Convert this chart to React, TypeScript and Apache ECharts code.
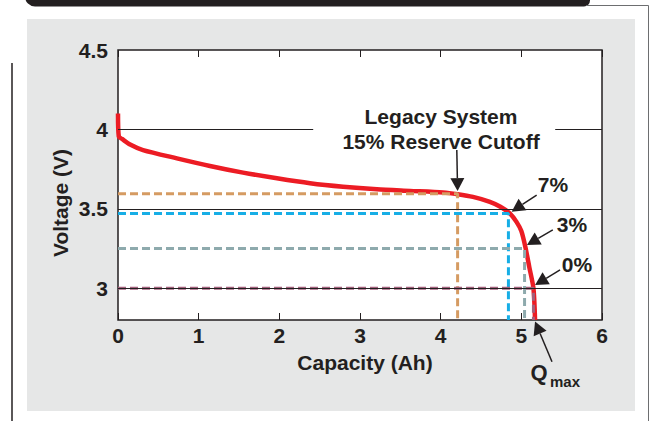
import React, { useEffect, useRef } from "react";
import * as echarts from "echarts";

// Discharge curve (capacity in Ah, voltage in V)
const capacity = [0, 0.01, 0.05, 0.15, 0.31, 0.73, 1.14, 1.55, 1.97, 2.38, 2.79, 3.21, 3.62, 4.03, 4.21, 4.4, 4.61, 4.74, 4.86, 4.94, 5.0, 5.05, 5.1, 5.15, 5.17];
const voltage = [4.1, 3.955, 3.94, 3.905, 3.87, 3.818, 3.77, 3.728, 3.692, 3.661, 3.639, 3.623, 3.613, 3.603, 3.592, 3.575, 3.544, 3.513, 3.47, 3.418, 3.36, 3.26, 3.13, 3.0, 2.8];

// Reserve cut-off points
const cutoffNames = ["15%", "7%", "3%", "0%"];
const cutoffCapacity = [4.21, 4.84, 5.04, 5.15];
const cutoffVoltage = [3.595, 3.47, 3.25, 3.0];
const cutoffColors = ["#d59b62", "#17aee6", "#8eaaad", "#a3607c"];

// Axes
const xMin = 0;
const xMax = 6;
const yMin = 2.8;
const yMax = 4.5;
const yTickLabels = [3, 3.5, 4, 4.5];
const fullGridVoltages = [3, 3.5];
const partialGridVoltage = 4;
const partialGridRanges = [[0, 2.42], [5.42, 6]];

// Annotation arrows: tails and tips in (capacity, voltage)
const arrowTail = [[4.2, 3.87], [5.19, 3.587], [5.39, 3.367], [5.48, 3.115], [5.38, 2.537]];
const arrowTip = [[4.21, 3.612], [4.88, 3.482], [5.07, 3.272], [5.17, 3.02], [5.17, 2.79]];

const FONT = '"Liberation Sans", Arial, Helvetica, sans-serif';
const INK = "#231f20";
const FS = 21;

export default function App() {
  const ref = useRef<HTMLDivElement>(null);
  useEffect(() => {
    if (!ref.current) return;
    const chart = echarts.init(ref.current, undefined, { renderer: "svg" });
    const series: any[] = [
      {
        type: "line",
        data: [],
        z: 1,
        markLine: {
          silent: true,
          symbol: "none",
          label: { show: false },
          lineStyle: { color: INK, width: 1, type: "solid" },
          data: [
            ...fullGridVoltages.map((v) => ({ yAxis: v })),
            ...partialGridRanges.map(([a, b]) => [
              { coord: [a, partialGridVoltage] },
              { coord: [b, partialGridVoltage] },
            ]),
          ],
        },
      },
      {
        type: "line",
        name: "Discharge",
        data: capacity.map((c, i) => [c, voltage[i]]),
        showSymbol: false,
        smooth: 0.25,
        lineStyle: { color: "#ec1c24", width: 4.5 },
        z: 2,
      },
      ...cutoffNames.map((n, i) => ({
        type: "line",
        name: n,
        data: [
          [xMin, cutoffVoltage[i]],
          [cutoffCapacity[i], cutoffVoltage[i]],
          [cutoffCapacity[i], yMin],
        ],
        showSymbol: false,
        lineStyle: { color: cutoffColors[i], width: 3, type: [8, 4] },
        z: 3,
      })),
    ];

    chart.setOption({
      animation: false,
      backgroundColor: "#ffffff",
      grid: {
        left: 118,
        top: 50,
        right: 48,
        bottom: 101,
        show: true,
        backgroundColor: "#ffffff",
        borderColor: INK,
        borderWidth: 1.5,
      },
      xAxis: [
        {
          type: "value",
          min: xMin,
          max: xMax,
          interval: 1,
          axisLine: { show: false },
          axisTick: { show: true, inside: true, length: 7, lineStyle: { color: INK, width: 1 } },
          splitLine: { show: false },
          axisLabel: { color: INK, fontSize: FS, fontWeight: "bold", fontFamily: FONT, margin: 5 },
        },
        {
          type: "value",
          position: "top",
          min: xMin,
          max: xMax,
          interval: 1,
          axisLine: { show: false },
          axisTick: { show: true, inside: true, length: 7, lineStyle: { color: INK, width: 1 } },
          splitLine: { show: false },
          axisLabel: { show: false },
        },
      ],
      yAxis: {
        type: "value",
        min: yMin,
        max: yMax,
        axisLine: { show: false },
        axisTick: { show: false },
        splitLine: { show: false },
        axisLabel: {
          customValues: yTickLabels,
          color: INK,
          fontSize: FS,
          fontWeight: "bold",
          fontFamily: FONT,
          margin: 10,
        },
      },
      series,
    });

    const px = (p: number[]) => chart.convertToPixel({ gridIndex: 0 }, p) as number[];
    const graphics: any[] = [
      { type: "rect", z: -10, shape: { x: 27, y: 19, width: 608, height: 392 }, style: { fill: "#e6e7e7" } },
      { type: "rect", z: -10, shape: { x: 25, y: -10, width: 565, height: 16.5, r: [0, 0, 6, 10] }, style: { fill: INK } },
      { type: "polyline", z: -10, shape: { points: [[586, 5.5], [648.5, 5.5], [648.5, 421]] }, style: { stroke: "#6d6e70", lineWidth: 1, fill: null } },
      { type: "line", z: -10, shape: { x1: 12, y1: 63, x2: 12, y2: 421 }, style: { stroke: INK, lineWidth: 1.5 } },
    ];

    arrowTail.forEach((t, i) => {
      const T = px(t);
      const P = px(arrowTip[i]);
      const dx = P[0] - T[0];
      const dy = P[1] - T[1];
      const len = Math.hypot(dx, dy) || 1;
      const ux = dx / len;
      const uy = dy / len;
      const L = 13;
      const W = 7;
      const B = [P[0] - ux * L, P[1] - uy * L];
      graphics.push({
        type: "line",
        z: 20,
        shape: { x1: T[0], y1: T[1], x2: B[0], y2: B[1] },
        style: { stroke: INK, lineWidth: 1.5 },
      });
      graphics.push({
        type: "polygon",
        z: 20,
        shape: { points: [P, [B[0] - uy * W, B[1] + ux * W], [B[0] + uy * W, B[1] - ux * W]] },
        style: { fill: INK },
      });
    });

    const txt = (text: string, x: number, y: number, size = FS, extra: any = {}) => ({
      type: "text",
      z: 20,
      x,
      y,
      style: {
        text,
        fill: INK,
        font: `bold ${size}px ${FONT}`,
        align: "center",
        verticalAlign: "middle",
        ...extra,
      },
    });

    graphics.push(txt("Legacy System\n15% Reserve Cutoff", 441, 129, FS, { lineHeight: 25 }));
    graphics.push(txt("7%", 553, 184));
    graphics.push(txt("3%", 572, 224));
    graphics.push(txt("0%", 577, 264));
    graphics.push(txt("Q", 539, 372, 22));
    graphics.push(txt("max", 565, 381, 15));
    graphics.push(txt("Capacity (Ah)", 365, 362));
    graphics.push({ ...txt("Voltage (V)", 60, 203), rotation: Math.PI / 2 });

    chart.setOption({ graphic: graphics });

    return () => chart.dispose();
  }, []);

  return (
    <div
      ref={ref}
      style={{ position: "fixed", left: 0, top: 0, width: 650, height: 421 }}
    />
  );
}
